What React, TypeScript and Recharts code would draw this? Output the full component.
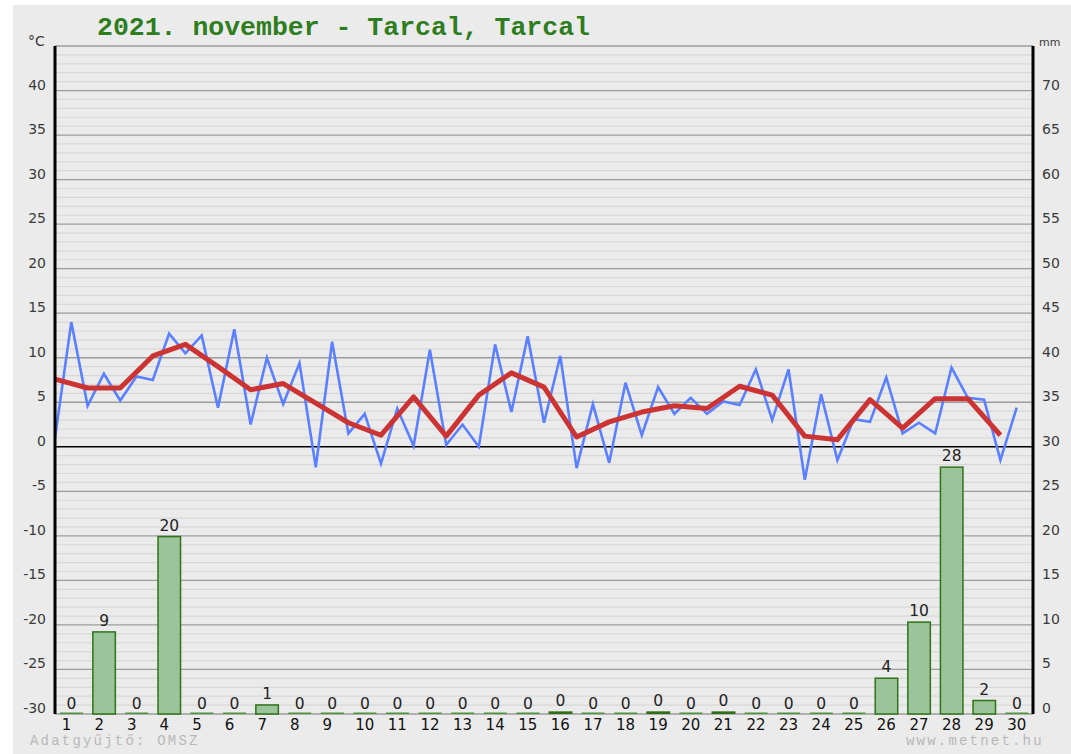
import React from 'react';
import { ComposedChart, Line, Bar, XAxis, YAxis, CartesianGrid, LabelList } from 'recharts';

// ---- data ----
const days = [1, 2, 3, 4, 5, 6, 7, 8, 9, 10, 11, 12, 13, 14, 15, 16, 17, 18, 19, 20, 21, 22, 23, 24, 25, 26, 27, 28, 29, 30];
const precipitation = [0, 9.3, 0, 20.0, 0, 0, 1.1, 0, 0, 0, 0, 0, 0, 0, 0, 0.3, 0, 0, 0.3, 0, 0.3, 0, 0, 0, 0, 4.1, 10.4, 27.8, 1.6, 0];
// temperature readings every half day, starting at day 0.5
const tempHalfDay = [
  1.0, 14.0, 4.6, 8.2, 5.2, 7.9, 7.5, 12.7, 10.5, 12.5,
  4.4, 13.2, 2.5, 10.0, 4.8, 9.4, -2.3, 11.8, 1.5, 3.7,
  -1.9, 4.3, 0.1, 10.9, 0.2, 2.5, 0.0, 11.5, 3.9, 12.4,
  2.7, 10.2, -2.4, 4.8, -1.8, 7.2, 1.3, 6.7, 3.7, 5.5,
  3.7, 5.1, 4.7, 8.7, 3.0, 8.7, -3.7, 5.9, -1.5, 3.1,
  2.8, 7.8, 1.5, 2.7, 1.5, 8.9, 5.5, 5.3, -1.5, 4.4,
];
// daily mean temperature
const dailyMean = [7.6, 6.6, 6.6, 10.2, 11.5, 9.0, 6.4, 7.1, 4.9, 2.7, 1.3, 5.6, 1.2, 5.8, 8.3, 6.7, 1.1, 2.8, 3.9, 4.6, 4.3, 6.8, 5.8, 1.2, 0.8, 5.3, 2.1, 5.4, 5.4, 1.3];
const tempTicks = [-30, -25, -20, -15, -10, -5, 0, 5, 10, 15, 20, 25, 30, 35, 40];
const precipTicks = [0, 5, 10, 15, 20, 25, 30, 35, 40, 45, 50, 55, 60, 65, 70];
const tempDomain = [-30, 45];
const precipDomain = [0, 75];

const barData = days.map((d, i) => ({ day: d, p: precipitation[i] }));
const blueData = tempHalfDay.map((t, i) => ({ day: 0.5 + i * 0.5, t }));
const redData = dailyMean.map((t, i) => ({ day: days[i] - 0.5, t }));

const allGrid: number[] = [];
for (let v = tempDomain[0]; v <= tempDomain[1]; v++) allGrid.push(v);
const minorGrid = allGrid.filter((v) => v % 5 !== 0);
const majorGrid = allGrid.filter((v) => v % 5 === 0 && v !== 0);
const zeroGrid = [0];

const gen = (vals: number[]) => (props: any) => {
  const ya = props.yAxis;
  const s = ya && ya.scale;
  if (typeof s === 'function') return vals.map((v) => s(v));
  if (s && typeof s.map === 'function') return vals.map((v) => s.map(v));
  return [];
};

const FONT = 'DejaVu Sans, Verdana, sans-serif';
const BAR_W = 24;

const LeftTick = (props: any) => {
  const { x, y, payload } = props;
  return (
    <text x={x} y={y - 6} textAnchor="end" dominantBaseline="central" fontSize={14} fill="#3a3a3a" fontFamily={FONT}>
      {payload.value}
    </text>
  );
};
const RightTick = (props: any) => {
  const { x, y, payload } = props;
  return (
    <text x={x} y={y - 6} textAnchor="start" dominantBaseline="central" fontSize={14} fill="#3a3a3a" fontFamily={FONT}>
      {payload.value}
    </text>
  );
};
const DayTick = (props: any) => {
  const { x, y, payload } = props;
  return (
    <text x={x - 9.5} y={y + 11} textAnchor="start" dominantBaseline="central" fontSize={15} fill="#111" fontFamily={FONT}>
      {payload.value}
    </text>
  );
};

const BarShape = (props: any) => {
  const { x, y, width, height } = props;
  const cx = x + width / 2;
  const bx = cx - BAR_W / 2;
  if (!(height > 0.5)) {
    return <rect x={bx + 0.5} y={y - 1.5} width={BAR_W - 1} height={1.5} fill="#4a9538" />;
  }
  if (height < 4) {
    return <rect x={bx} y={y} width={BAR_W} height={height} fill="#2f6f15" />;
  }
  return (
    <rect x={bx + 0.75} y={y + 0.75} width={BAR_W - 1.5} height={height - 0.75} fill="#9bc49b" stroke="#2f7418" strokeWidth={1.5} />
  );
};

const BarLabel = (props: any) => {
  const { x, y, width, value } = props;
  return (
    <text x={x + width / 2} y={y - 5} textAnchor="middle" fontSize={15.5} fill="#222" fontFamily={FONT}>
      {Math.round(Number(value))}
    </text>
  );
};

export default function App() {
  return (
    <div style={{ position: 'absolute', left: 0, top: 0, width: 1071, height: 754, background: '#fff' }}>
      <div style={{ position: 'absolute', left: 13, top: 5, width: 1058, height: 749, background: '#ebebeb' }} />
      <div style={{ position: 'absolute', left: 0, top: 0 }}>
        <ComposedChart width={1071} height={754} data={barData} margin={{ top: 46, right: 0, bottom: 15, left: 15 }}>
          <CartesianGrid yAxisId="t" vertical={false} stroke="#d8d8d8" strokeWidth={1.2} horizontalCoordinatesGenerator={gen(minorGrid)} />
          <CartesianGrid yAxisId="t" vertical={false} stroke="#9c9c9c" strokeWidth={1.3} horizontalCoordinatesGenerator={gen(majorGrid)} />
          <CartesianGrid yAxisId="t" vertical={false} stroke="#000" strokeWidth={1.6} horizontalCoordinatesGenerator={gen(zeroGrid)} />
          <XAxis dataKey="day" type="number" domain={[0.5, 30.5]} ticks={days} interval={0} axisLine={false} tickLine={false} tickSize={0} tickMargin={0} height={25} tick={<DayTick />} />
          <YAxis yAxisId="t" domain={tempDomain} ticks={tempTicks} interval={0} width={40} tickSize={0} tickMargin={9} tickLine={false} axisLine={{ stroke: '#000', strokeWidth: 3 }} tick={<LeftTick />} />
          <YAxis yAxisId="p" orientation="right" domain={precipDomain} ticks={precipTicks} interval={0} width={38} tickSize={0} tickMargin={9} tickLine={false} axisLine={{ stroke: '#000', strokeWidth: 3 }} tick={<RightTick />} />
          <Bar yAxisId="p" dataKey="p" barSize={BAR_W} shape={<BarShape />} isAnimationActive={false}>
            <LabelList dataKey="p" content={<BarLabel />} />
          </Bar>
          <Line yAxisId="t" data={blueData} dataKey="t" type="linear" stroke="#5b80ff" strokeWidth={2.6} dot={false} isAnimationActive={false} />
          <Line yAxisId="t" data={redData} dataKey="t" type="linear" stroke="#cc3434" strokeWidth={5} strokeLinejoin="round" dot={false} isAnimationActive={false} />
        </ComposedChart>
      </div>
      <svg width={1071} height={754} style={{ position: 'absolute', left: 0, top: 0, pointerEvents: 'none' }}>
        <text x={97} y={35} fontSize={26.5} fontWeight="bold" fill="#2e7d1e" fontFamily="Liberation Mono, Courier New, monospace">
          2021. november - Tarcal, Tarcal
        </text>
        <text x={28} y={46} fontSize={14} fill="#3a3a3a" fontFamily={FONT}>°C</text>
        <text x={1039} y={46} fontSize={11} fill="#3a3a3a" fontFamily={FONT}>mm</text>
        <text x={30} y={745} fontSize={14} letterSpacing={2.2} fill="#b8b8b8" fontFamily="Liberation Mono, Courier New, monospace">
          Adatgyűjtő: OMSZ
        </text>
        <text x={906} y={745} fontSize={14} letterSpacing={2.2} fill="#b8b8b8" fontFamily="Liberation Mono, Courier New, monospace">
          www.metnet.hu
        </text>
      </svg>
    </div>
  );
}
